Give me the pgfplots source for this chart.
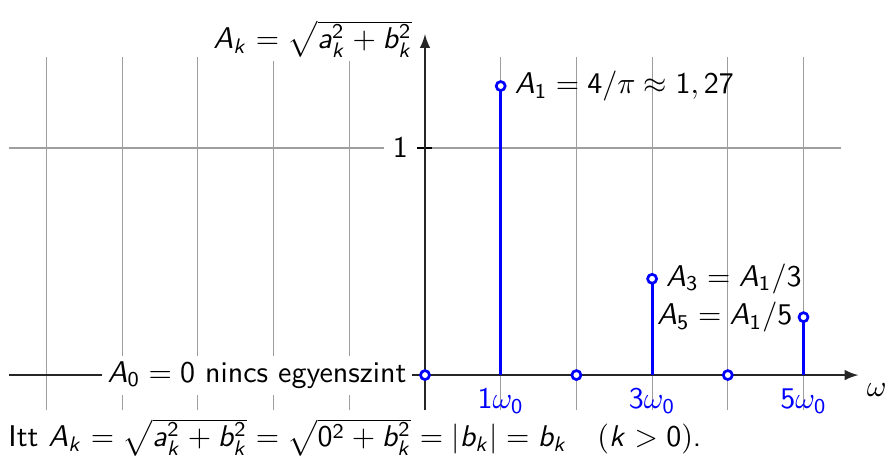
\documentclass[border=0pt]{standalone}
\usepackage{pgfplots}
\pgfplotsset{compat=1.18}
\renewcommand{\familydefault}{\sfdefault}
% sans-serif letters and digits in formulas
\DeclareSymbolFont{sfslanted}{OT1}{cmss}{m}{sl}
\DeclareSymbolFont{sfupright}{OT1}{cmss}{m}{n}
\DeclareMathSymbol{A}{\mathalpha}{sfslanted}{`A}
\DeclareMathSymbol{a}{\mathalpha}{sfslanted}{`a}
\DeclareMathSymbol{b}{\mathalpha}{sfslanted}{`b}
\DeclareMathSymbol{k}{\mathalpha}{sfslanted}{`k}
\DeclareMathSymbol{0}{\mathalpha}{sfupright}{`0}
\DeclareMathSymbol{1}{\mathalpha}{sfupright}{`1}
\DeclareMathSymbol{2}{\mathalpha}{sfupright}{`2}
\DeclareMathSymbol{3}{\mathalpha}{sfupright}{`3}
\DeclareMathSymbol{4}{\mathalpha}{sfupright}{`4}
\DeclareMathSymbol{5}{\mathalpha}{sfupright}{`5}
\DeclareMathSymbol{7}{\mathalpha}{sfupright}{`7}
\definecolor{gridgray}{gray}{0.62}
\begin{document}
\begin{tikzpicture}
\begin{axis}[
  x=25.23pt, y=75.67pt,
  xmin=-5.5, xmax=5.5, ymin=-0.155, ymax=1.4,
  axis lines=middle,
  axis line style={line width=0.6pt, black!85},
  x axis line style={-latex, shorten >=-5.7pt},
  y axis line style={-latex, shorten >=-7.7pt},
  xtick={-5,...,5},
  xticklabels={{},{},{},{},{},{},{$1\omega_0$},{},{$3\omega_0$},{},{$5\omega_0$}},
  xticklabel style={text=blue, inner sep=2pt},
  xtick style={draw=none},
  ytick={0,1}, yticklabels={{},{$1$}},
  yticklabel style={fill=white, inner sep=3pt},
  ytick style={black, line width=0.4pt},
  major tick length=5pt,
  grid=major,
  major grid style={gridgray, line width=0.4pt},
  clip=false,
]
% overall extent of the figure
\path (axis cs:-5.614,-0.427) rectangle (axis cs:6.103,1.652);
% labels with white background sit over the grid
\node[anchor=east, fill=white, inner sep=2pt, xshift=-4pt] at (axis cs:0,0)
  {$A_0=0$ nincs egyenszint};
\node[anchor=east, fill=white, inner sep=1pt, xshift=-3pt] at (axis cs:0,1.48)
  {$A_k=\sqrt{a_k^2+b_k^2}$};
\node[anchor=west, inner sep=2pt, xshift=2.5pt] at (axis cs:1,1.273) {$A_1=4/\pi\approx 1,27$};
\node[anchor=west, inner sep=2pt, xshift=2.5pt] at (axis cs:3,0.424) {$A_3=A_1/3$};
\node[anchor=east, inner sep=2pt, xshift=-1.5pt] at (axis cs:5,0.255) {$A_5=A_1/5$};
\node[anchor=north west, inner sep=0pt] at (axis cs:5.83,-0.035) {$\omega$};
\node[anchor=north west, inner sep=0pt] at (axis cs:-5.51,-0.19)
  {Itt $A_k=\sqrt{a_k^2+b_k^2}=\sqrt{0^2+b_k^2}=|b_k|=b_k\quad(k>0)$.};
% amplitude spectrum: odd harmonics only
\addplot[ycomb, blue, line width=1pt, mark=*, mark size=1.5pt,
  mark options={fill=white, draw=blue, line width=0.9pt}]
  coordinates {(1,1.273) (3,0.424) (5,0.255)};
% even harmonics and DC component are zero
\addplot[only marks, mark=*, mark size=1.5pt,
  mark options={fill=white, draw=blue, line width=0.9pt}]
  coordinates {(0,0) (2,0) (4,0)};
\end{axis}
\end{tikzpicture}
\end{document}
